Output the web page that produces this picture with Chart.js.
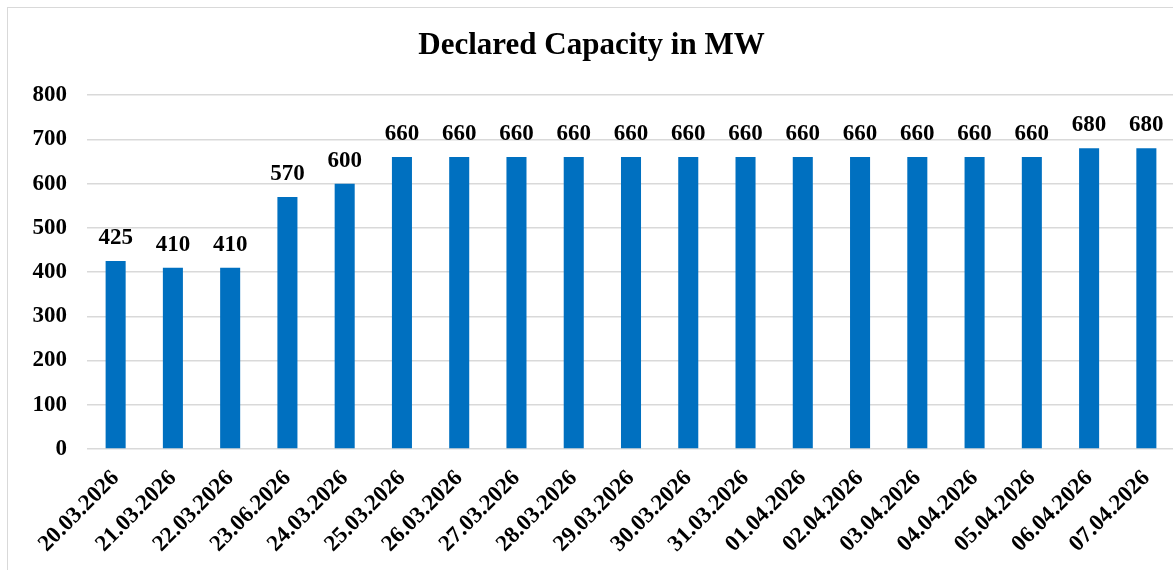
<!DOCTYPE html>
<html>
<head>
<meta charset="utf-8">
<script src="https://cdn.jsdelivr.net/npm/chart.js@4.4.1/dist/chart.umd.min.js"></script>
<style>
    html, body { margin: 0; padding: 0; background: #fff; overflow: hidden; }
    #wrap { position: relative; width: 1173px; height: 570px; overflow: hidden; }
    #frame { position: absolute; left: 7px; top: 7px; width: 1200px; height: 600px; border: 1px solid #d9d9d9; }
    #chartCap { position: absolute; left: 0; top: 0; }
</style>
</head>
<body>
<div id="wrap">
    <div id="frame"></div>
    <canvas id="chartCap" width="1175" height="570"></canvas>
</div>
<script>
// ===== DATA =====
const dates = [
    "20.03.2026", "21.03.2026", "22.03.2026", "23.06.2026", "24.03.2026",
    "25.03.2026", "26.03.2026", "27.03.2026", "28.03.2026", "29.03.2026",
    "30.03.2026", "31.03.2026", "01.04.2026", "02.04.2026", "03.04.2026",
    "04.04.2026", "05.04.2026", "06.04.2026", "07.04.2026"
];
const capacity = [425, 410, 410, 570, 600, 660, 660, 660, 660, 660, 660, 660, 660, 660, 660, 660, 660, 680, 680];
const yTicks = [0, 100, 200, 300, 400, 500, 600, 700, 800];

const serif = "'Liberation Serif', 'Times New Roman', serif";

// labels above bars (no datalabels plugin offline)
const barLabels = {
    id: "barLabels",
    afterDatasetsDraw(chart) {
        const ctx = chart.ctx;
        const meta = chart.getDatasetMeta(0);
        ctx.save();
        ctx.font = "bold 23px " + serif;
        ctx.fillStyle = "#000";
        ctx.textAlign = "center";
        ctx.textBaseline = "alphabetic";
        meta.data.forEach((bar, i) => {
            ctx.fillText(String(capacity[i]), bar.x, bar.y - 17);
        });
        ctx.restore();
    }
};

new Chart(document.getElementById("chartCap"), {
    type: "bar",
    data: {
        labels: dates,
        datasets: [{
            label: "Declared Capacity",
            data: capacity,
            backgroundColor: "#0070C0",
            borderWidth: 0,
            categoryPercentage: 1,
            barPercentage: 0.35
        }]
    },
    options: {
        responsive: false,
        animation: false,
        layout: { padding: { left: 8, right: 0, top: 0, bottom: 0 } },
        plugins: {
            legend: { display: false },
            tooltip: { enabled: false },
            title: {
                display: true,
                text: "Declared Capacity in MW",
                color: "#000",
                font: { family: serif, size: 31, weight: "bold" },
                padding: { top: 27, bottom: 31 }
            }
        },
        scales: {
            x: {
                grid: { display: false },
                border: { display: false },
                ticks: {
                    color: "#000",
                    font: { family: serif, size: 23, weight: "bold" },
                    minRotation: 45,
                    maxRotation: 45,
                    padding: 8,
                    autoSkip: false
                },
                afterFit: (scale) => { scale.height = 121; }
            },
            y: {
                min: 0,
                max: 800,
                afterBuildTicks: (scale) => { scale.ticks = yTicks.map(v => ({ value: v })); },
                grid: { color: "#d9d9d9", lineWidth: 1.5, drawTicks: false },
                border: { display: false },
                ticks: {
                    color: "#000",
                    font: { family: serif, size: 23, weight: "bold" },
                    padding: 20
                },
                afterFit: (scale) => { scale.width = 79; }
            }
        }
    },
    plugins: [barLabels]
});
</script>
</body>
</html>
